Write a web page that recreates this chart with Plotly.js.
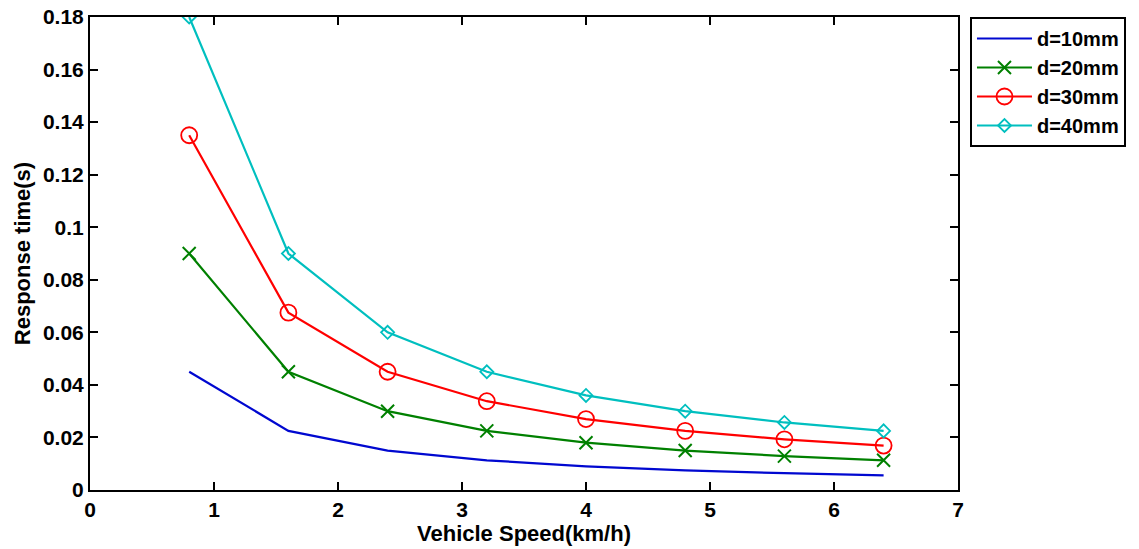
<!DOCTYPE html>
<html><head><meta charset="utf-8">
<script src="https://cdn.plot.ly/plotly-3.0.1.min.js"></script>
<style>html,body{margin:0;padding:0;background:#fff}#c{width:1139px;height:549px}</style>
</head><body><div id="c"></div>
<script>
const speed = [0.8, 1.6, 2.4, 3.2, 4.0, 4.8, 5.6, 6.4];
const d10 = [0.045, 0.0225, 0.015, 0.0113, 0.009, 0.0075, 0.0064, 0.0056];
const d20 = [0.09, 0.045, 0.03, 0.0225, 0.018, 0.015, 0.0129, 0.0113];
const d30 = [0.135, 0.0675, 0.045, 0.0338, 0.027, 0.0225, 0.0193, 0.0169];
const d40 = [0.18, 0.09, 0.06, 0.045, 0.036, 0.03, 0.0257, 0.0225];
const names = ['d=10mm', 'd=20mm', 'd=30mm', 'd=40mm'];
const yTicks = [0, 0.02, 0.04, 0.06, 0.08, 0.1, 0.12, 0.14, 0.16, 0.18];
const yTickText = ['0', '0.02', '0.04', '0.06', '0.08', '0.1', '0.12', '0.14', '0.16', '0.18'];
const xTicks = [0, 1, 2, 3, 4, 5, 6, 7];

const FONT = 'Liberation Sans, Arial, sans-serif';

const traces = [
  {x: speed, y: d10, name: names[0], mode: 'lines', line: {color: '#0008d0', width: 2.2}},
  {x: speed, y: d20, name: names[1], mode: 'lines+markers', line: {color: '#008000', width: 2.2},
   marker: {symbol: 'x-thin-open', size: 13, line: {color: '#008000', width: 2}}},
  {x: speed, y: d30, name: names[2], mode: 'lines+markers', line: {color: '#ff0000', width: 2.2},
   marker: {symbol: 'circle-open', size: 16, color: '#ff0000', line: {color: '#ff0000', width: 1.8}}},
  {x: speed, y: d40, name: names[3], mode: 'lines+markers', line: {color: '#00bfbf', width: 2.2},
   marker: {symbol: 'diamond-open', size: 10, color: '#00bfbf', line: {color: '#00bfbf', width: 1.8}}}
];

const axisCommon = {
  showline: true, linecolor: '#000', linewidth: 2, mirror: 'ticks',
  ticks: 'inside', ticklen: 8, tickwidth: 2, tickcolor: '#000',
  showgrid: false, zeroline: false,
  tickfont: {family: FONT, size: 21, color: '#000', weight: 'bold'}
};

const layout = {
  width: 1139, height: 549,
  margin: {l: 90, r: 181, t: 17, b: 59, autoexpand: false},
  paper_bgcolor: '#fff', plot_bgcolor: '#fff',
  showlegend: true,
  legend: {x: 1.0138, y: 1.0, xanchor: 'left', yanchor: 'top',
    bordercolor: '#000', borderwidth: 2, bgcolor: '#fff',
    font: {family: FONT, size: 20, color: '#000', weight: 'bold'},
    itemwidth: 55, tracegroupgap: 0, entrywidth: 160},
  xaxis: Object.assign({}, axisCommon, {range: [0, 7], tickvals: xTicks, ticklabelstandoff: 0,
    title: {text: 'Vehicle Speed(km/h)', standoff: 0,
      font: {family: FONT, size: 22, color: '#000', weight: 'bold'}}}),
  yaxis: Object.assign({}, axisCommon, {range: [0, 0.18], tickvals: yTicks, ticktext: yTickText,
    ticklabelstandoff: 0,
    title: {text: 'Response time(s)', standoff: 6,
      font: {family: FONT, size: 22, color: '#000', weight: 'bold'}}})
};

Plotly.newPlot('c', traces, layout, {displayModeBar: false, staticPlot: true});
</script></body></html>
